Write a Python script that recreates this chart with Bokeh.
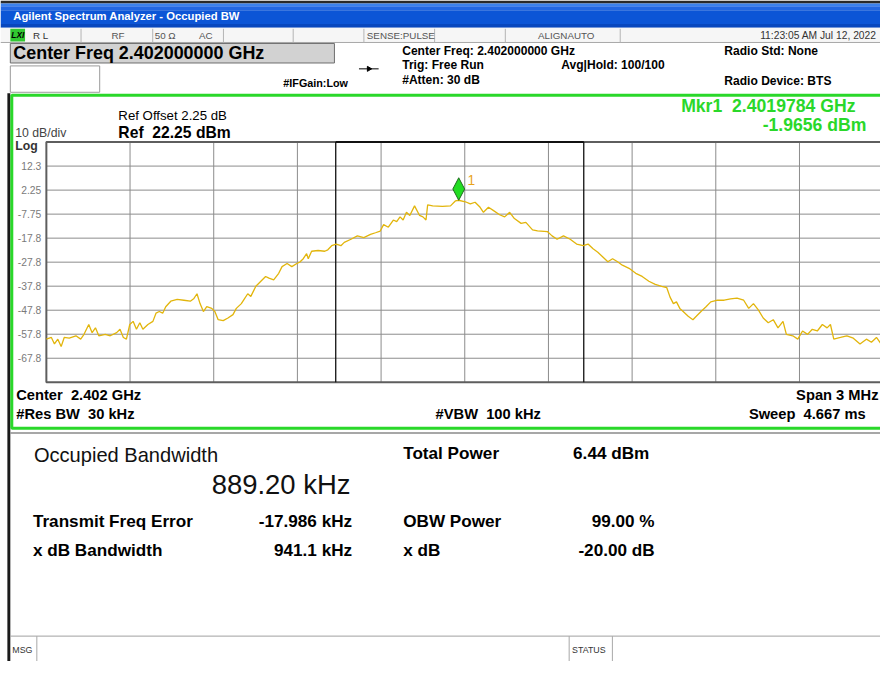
import numpy as np
from bokeh.plotting import figure
from bokeh.models import Range1d
from bokeh.embed import file_html
from bokeh.resources import INLINE
from bokeh.core.properties import value

# ---------------- data ----------------
CENTER_MHZ = 2402.0
SPAN_MHZ = 3.0
REF_DBM = 22.25
DB_PER_DIV = 10.0
N_DIV = 10

trace_offset_mhz = [
    -1.500, -1.482, -1.471, -1.459, -1.447, -1.436, -1.418, -1.394, -1.377, -1.365,
    -1.348, -1.336, -1.324, -1.312, -1.289, -1.271, -1.248, -1.236, -1.224, -1.213,
    -1.201, -1.189, -1.177, -1.165, -1.154, -1.136, -1.118, -1.107, -1.095, -1.083,
    -1.072, -1.054, -1.031, -1.007, -0.984, -0.972, -0.960, -0.949, -0.937, -0.925,
    -0.907, -0.896, -0.884, -0.866, -0.849, -0.831, -0.819, -0.801, -0.790, -0.778,
    -0.767, -0.749, -0.731, -0.714, -0.702, -0.685, -0.667, -0.655, -0.637, -0.620,
    -0.602, -0.590, -0.579, -0.567, -0.561, -0.549, -0.526, -0.502, -0.491, -0.477,
    -0.461, -0.444, -0.432, -0.408, -0.385, -0.362, -0.338, -0.320, -0.303, -0.291,
    -0.274, -0.256, -0.244, -0.232, -0.221, -0.209, -0.197, -0.180, -0.162, -0.150,
    -0.139, -0.133, -0.115, -0.080, -0.051, -0.033, -0.022, 0.002, 0.020, 0.037,
    0.055, 0.067, 0.085, 0.102, 0.125, 0.143, 0.161, 0.178, 0.202, 0.219,
    0.243, 0.261, 0.296, 0.313, 0.331, 0.354, 0.378, 0.401, 0.425, 0.442,
    0.460, 0.477, 0.495, 0.513, 0.530, 0.548, 0.565, 0.589, 0.613, 0.636,
    0.660, 0.683, 0.706, 0.724, 0.736, 0.748, 0.759, 0.771, 0.783, 0.801,
    0.818, 0.830, 0.847, 0.865, 0.882, 0.906, 0.930, 0.953, 0.976, 1.000,
    1.018, 1.035, 1.053, 1.070, 1.088, 1.106, 1.123, 1.141, 1.153, 1.176,
    1.194, 1.211, 1.229, 1.246, 1.264, 1.282, 1.299, 1.311, 1.323, 1.347,
    1.370, 1.393, 1.417, 1.440, 1.458, 1.476, 1.491, 1.500,
]
trace_dbm = [
    -59.8, -59.1, -61.8, -59.8, -62.9, -59.1, -59.4, -58.4, -59.8, -57.8,
    -53.7, -57.1, -55.1, -58.4, -57.8, -58.4, -57.1, -55.7, -59.1, -59.8,
    -53.7, -52.4, -55.7, -53.0, -55.7, -53.7, -52.4, -49.0, -48.3, -49.0,
    -46.3, -44.0, -43.2, -43.6, -44.0, -43.0, -40.9, -45.0, -48.3, -46.3,
    -47.0, -48.3, -51.7, -52.1, -51.0, -49.6, -47.0, -45.0, -43.0, -40.9,
    -42.0, -37.8, -35.7, -33.7, -34.4, -35.1, -32.4, -29.6, -28.3, -29.6,
    -28.3, -27.6, -26.3, -24.2, -26.3, -23.2, -22.9, -23.2, -22.6, -20.9,
    -20.2, -20.9, -19.5, -18.2, -16.8, -17.5, -16.2, -15.5, -14.8, -12.1,
    -13.2, -10.2, -10.9, -8.9, -10.2, -7.0, -8.3, -4.3, -8.3, -8.9,
    -10.2, -3.9, -4.3, -4.5, -4.3, -2.2, -1.97, -2.6, -3.5, -2.8,
    -4.9, -7.0, -4.9, -6.2, -8.0, -8.9, -7.0, -9.6, -11.6, -11.2,
    -14.3, -14.7, -15.0, -16.8, -18.2, -16.8, -18.2, -20.2, -20.9, -20.2,
    -22.2, -23.6, -25.6, -27.6, -26.3, -27.6, -29.0, -30.3, -32.4, -33.7,
    -35.7, -37.0, -37.8, -38.3, -42.3, -45.0, -44.3, -47.0, -48.3, -50.3,
    -51.7, -50.3, -48.3, -46.3, -44.3, -43.6, -43.6, -43.0, -42.7, -43.6,
    -47.0, -45.0, -47.7, -51.0, -53.0, -51.7, -55.1, -52.4, -57.8, -58.4,
    -59.8, -56.4, -57.8, -55.7, -56.4, -53.7, -55.1, -53.7, -59.8, -59.1,
    -58.4, -59.4, -61.8, -59.8, -61.1, -59.1, -61.5, -60.5,
]

marker_mhz = 2401.9784
marker_dbm = -1.9656
freq_error_mhz = -0.017986
obw_mhz = 0.88920
obw_low_mhz = CENTER_MHZ + freq_error_mhz - obw_mhz / 2
obw_high_mhz = CENTER_MHZ + freq_error_mhz + obw_mhz / 2

y_tick_values = [12.25, 2.25, -7.75, -17.75, -27.75, -37.75, -47.75, -57.75, -67.75]
y_tick_labels = ["12.3", "2.25", "-7.75", "-17.8", "-27.8", "-37.8", "-47.8", "-57.8", "-67.8"]

# ---------------- layout (screen pixels of the reference) ----------------
W, H = 880, 661
X0, X1 = 0, 896          # reference screen extent mapped onto the canvas
Y0, Y1 = 0, 677
FS = 0.98                # font scale (canvas / reference)
GX0, GX1 = 46.7, 898.7   # graticule left / right
GY0, GY1 = 145.0, 391.0  # graticule top / bottom

f_left = CENTER_MHZ - SPAN_MHZ / 2
f_per_px = SPAN_MHZ / (GX1 - GX0)
db_per_px = DB_PER_DIV * N_DIV / (GY1 - GY0)
f_start = f_left + (X0 - GX0) * f_per_px
f_end = f_left + (X1 - GX0) * f_per_px
db_bottom = REF_DBM - (Y1 - GY0) * db_per_px
db_top = REF_DBM - (Y0 - GY0) * db_per_px

p = figure(width=W, height=H, output_backend="svg", toolbar_location=None,
           x_range=Range1d(X0, X1), y_range=Range1d(Y1, Y0),
           x_axis_type=None, y_axis_type=None, min_border=0,
           background_fill_color="white", border_fill_color="white",
           outline_line_color=None)
p.grid.visible = False
p.extra_x_ranges = {"freq": Range1d(f_start, f_end)}
p.extra_y_ranges = {"db": Range1d(db_bottom, db_top)}

FONT = "Liberation Sans"
NB = "\u00a0"


def box(l, r, t, b, fill=None, line=None, lw=1):
    p.quad(left=l, right=r, top=t, bottom=b,
           fill_color=fill, fill_alpha=1 if fill else 0,
           line_color=line, line_width=lw, line_alpha=1 if line else 0)


def txt(x, y, s, size, bold=False, color="black", align="left", italic=False,
        font=FONT):
    style = "bold" if bold else "normal"
    if italic:
        style = "bold italic" if bold else "italic"
    p.text(x=[x], y=[y], text=[s], text_font=value(font),
           text_font_size=f"{size * FS:.2f}px", text_font_style=style,
           text_color=color, text_align=align, text_baseline="middle")


# ---- title bar ----
box(X0, X1 + 10, 0, 3, fill="#2A2A2A")
for (t, b, c) in [(3, 6, "#3C82EE"), (6, 10, "#2367E2"), (10, 24, "#0C55D6"), (24, 28, "#0847BE")]:
    box(X0, X1 + 10, t, b, fill=c)
txt(13, 16, "Agilent Spectrum Analyzer - Occupied BW", 11.5, bold=True, color="white")

# ---- status row ----
box(X0, X1 + 10, 28, 43, fill="#F6F6F6")
p.segment(x0=[X0], y0=[43], x1=[X1 + 10], y1=[43], line_color="#A8A8A8", line_width=1)
for sx in [82, 155, 227, 298, 370, 442, 514, 631]:
    p.segment(x0=[sx], y0=[29], x1=[sx], y1=[43], line_color="#B4B4B4", line_width=1)
box(10, 25, 29, 42, fill="#31C831")
txt(11, 35.5, "LXI", 8.5, bold=True, italic=True, color="black")
txt(33, 35.5, "R L", 10, color="#333333")
txt(113, 35.5, "RF", 10, color="#555555")
txt(157, 35.5, "50 Ω", 10, color="#555555")
txt(202, 35.5, "AC", 10, color="#555555")
txt(373, 35.5, "SENSE:PULSE", 10, color="#555555")
txt(576, 35.5, "ALIGNAUTO", 10, color="#555555", align="center")
txt(892, 35.5, "11:23:05 AM Jul 12, 2022", 10.5, color="#333333", align="right")

# ---- settings rows ----
box(10, 340, 44, 64, fill="#D2D2D2", line="#6E6E6E", lw=1)
txt(13, 54, "Center Freq 2.402000000 GHz", 18.3, bold=True)
box(10, 101, 67, 94, fill="white", line="#9A9A9A", lw=1)
txt(288, 84, "#IFGain:Low", 11, bold=True)
p.segment(x0=[365], y0=[70], x1=[385], y1=[70], line_color="black", line_width=1)
p.scatter(x=[375], y=[70], marker="triangle", size=5, angle=-np.pi / 2,
          fill_color="black", line_color="black")
txt(409, 52, "Center Freq: 2.402000000 GHz", 12.3, bold=True)
txt(409, 66, "Trig: Free Run", 12.3, bold=True)
txt(409, 81, "#Atten: 30 dB", 12.3, bold=True)
txt(571, 66, "Avg|Hold: 100/100", 12.3, bold=True)
txt(737, 52, "Radio Std: None", 12.3, bold=True)
txt(737, 82, "Radio Device: BTS", 12.3, bold=True)

# ---- left dark border ----
box(7, 10, 95, 680, fill="#1A1A1A")

# ---- green measurement frame ----
GREEN = "#2AD82A"
box(11.5, 905, 97, 438, fill=None, line=GREEN, lw=3)

txt(120, 118, "Ref Offset 2.25 dB", 13.5, color="black")
txt(120, 135, "Ref" + NB + NB + "22.25 dBm", 16, bold=True)
txt(15, 136, "10 dB/div", 12.5, color="#444444")
txt(15, 149, "Log", 12.5, bold=True, color="#333333")

# ---- graticule (data coordinates) ----
FR = "freq"
DB = "db"
grid_f = [f_left + i * SPAN_MHZ / N_DIV for i in range(1, N_DIV)]
grid_db = [REF_DBM - i * DB_PER_DIV for i in range(1, N_DIV)]
db_low = REF_DBM - N_DIV * DB_PER_DIV
f_right = f_left + SPAN_MHZ
p.segment(x0=grid_f, y0=[db_low] * len(grid_f), x1=grid_f, y1=[REF_DBM] * len(grid_f),
          line_color="#8C8C8C", line_width=1, x_range_name=FR, y_range_name=DB)
p.segment(x0=[f_left] * len(grid_db), y0=grid_db, x1=[f_right] * len(grid_db), y1=grid_db,
          line_color="#8C8C8C", line_width=1, x_range_name=FR, y_range_name=DB)
p.quad(left=[f_left], right=[f_right], top=[REF_DBM], bottom=[db_low],
       fill_alpha=0, line_color="#5E5E5E", line_width=2, x_range_name=FR, y_range_name=DB)

# OBW bracket
p.segment(x0=[obw_low_mhz, obw_high_mhz], y0=[db_low, db_low],
          x1=[obw_low_mhz, obw_high_mhz], y1=[REF_DBM, REF_DBM],
          line_color="#111111", line_width=1.3, x_range_name=FR, y_range_name=DB)
p.segment(x0=[obw_low_mhz], y0=[REF_DBM], x1=[obw_high_mhz], y1=[REF_DBM],
          line_color="#111111", line_width=2, x_range_name=FR, y_range_name=DB)

# y tick labels
p.text(x=[41.5] * len(y_tick_values), y=y_tick_values, text=y_tick_labels,
       text_font=value(FONT), text_font_size=f"{10.5 * FS:.2f}px", text_color="#7A7A7A",
       text_align="right", text_baseline="middle", y_range_name=DB)

# trace
trace_f = [CENTER_MHZ + o for o in trace_offset_mhz]
p.line(x=trace_f, y=trace_dbm, line_color="#E2B50C", line_width=1.3,
       x_range_name=FR, y_range_name=DB)

# marker diamond (tip sits on the marker point)
mh = 23 * db_per_px      # diamond height in dB
mw = 6 * f_per_px        # half width in MHz
p.patch(x=[marker_mhz, marker_mhz + mw, marker_mhz, marker_mhz - mw],
        y=[marker_dbm, marker_dbm + mh / 2, marker_dbm + mh, marker_dbm + mh / 2],
        fill_color="#22DD22", line_color="#1E6B1E", line_width=1,
        x_range_name=FR, y_range_name=DB)
p.text(x=[marker_mhz + 9 * f_per_px], y=[marker_dbm + mh * 0.9], text=["1"],
       text_font=value(FONT), text_font_size=f"{14 * FS:.2f}px", text_color="#E8A31A",
       text_align="left", text_baseline="middle", x_range_name=FR, y_range_name=DB)

# marker readout
txt(693, 108, "Mkr1" + NB + NB + "2.4019784 GHz", 18, bold=True, color=GREEN)
txt(776, 128, "-1.9656 dBm", 18, bold=True, color=GREEN)

# bottom annotation of graticule
txt(16, 404, "Center" + NB + NB + "2.402 GHz", 15, bold=True)
txt(16, 423, "#Res BW" + NB + NB + "30 kHz", 15, bold=True)
txt(443, 423, "#VBW" + NB + NB + "100 kHz", 15, bold=True)
txt(894, 404, "Span 3 MHz", 15, bold=True, align="right")
txt(762, 423, "Sweep" + NB + NB + "4.667 ms", 15, bold=True)

# ---- result panel ----
p.segment(x0=[10], y0=[443], x1=[X1 + 10], y1=[443], line_color="#8A8A8A", line_width=1.5)
txt(34, 466, "Occupied Bandwidth", 20.5, color="#111111")
txt(215, 496, "889.20 kHz", 28, color="#111111")
txt(410, 463, "Total Power", 17.5, bold=True)
txt(583, 463, "6.44 dBm", 17.5, bold=True)
txt(33, 533, "Transmit Freq Error", 17.5, bold=True)
txt(358, 533, "-17.986 kHz", 17.5, bold=True, align="right")
txt(410, 533, "OBW Power", 17.5, bold=True)
txt(666, 533, "99.00 %", 17.5, bold=True, align="right")
txt(33, 563, "x dB Bandwidth", 17.5, bold=True)
txt(358, 563, "941.1 kHz", 17.5, bold=True, align="right")
txt(410, 563, "x dB", 17.5, bold=True)
txt(666, 563, "-20.00 dB", 17.5, bold=True, align="right")

# ---- message bar ----
p.segment(x0=[10], y0=[651], x1=[X1 + 10], y1=[651], line_color="#A0A0A0", line_width=1)
for sx in [37, 579, 623]:
    p.segment(x0=[sx], y0=[651], x1=[sx], y1=[680], line_color="#A8A8A8", line_width=1)
txt(12, 665, "MSG", 9, color="#333333")
txt(582, 665, "STATUS", 9, color="#333333")

open("out.html", "w").write(file_html(p, INLINE))
